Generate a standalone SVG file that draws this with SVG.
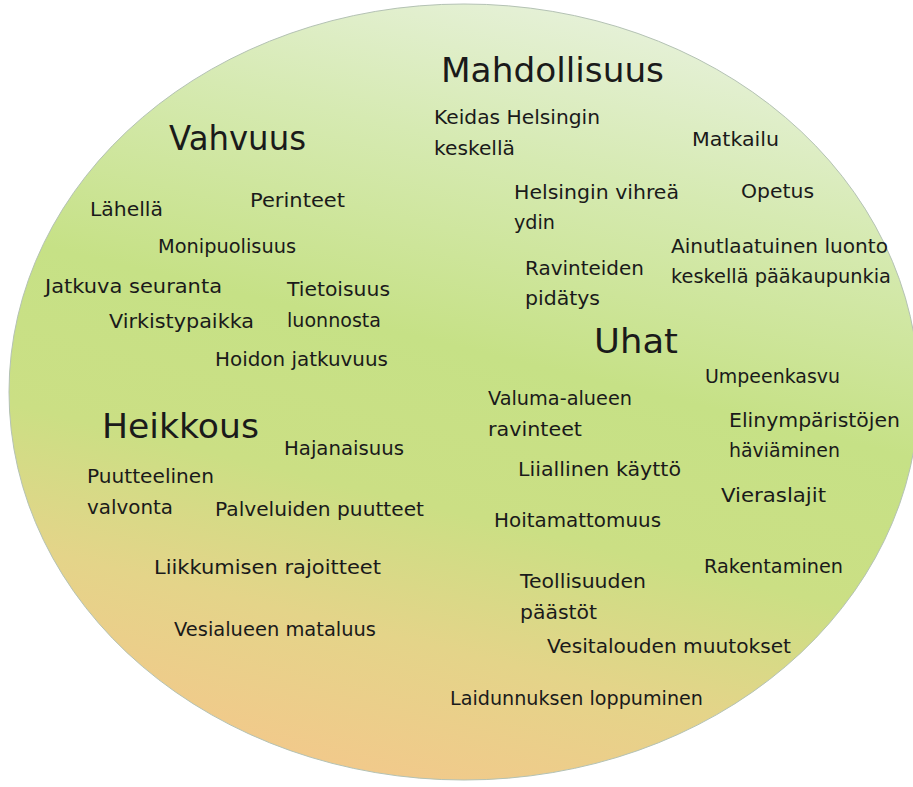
<svg xmlns="http://www.w3.org/2000/svg" width="913" height="787" viewBox="0 0 913 787">
<defs>
<linearGradient id="bg" gradientUnits="userSpaceOnUse" x1="560" y1="0" x2="370" y2="780">
<stop offset="0" stop-color="#e6f1d9"/>
<stop offset="0.2" stop-color="#d6eab2"/>
<stop offset="0.45" stop-color="#c6e186"/>
<stop offset="0.65" stop-color="#cbdf84"/>
<stop offset="0.82" stop-color="#e4d489"/>
<stop offset="1" stop-color="#f2c98b"/>
</linearGradient>
<style>
text{font-family:"DejaVu Sans","Liberation Sans",sans-serif;fill:#1a1a1a;}
.s{font-size:19px;}
.h{font-size:33px;}
</style>
</defs>
<rect width="913" height="787" fill="#ffffff"/>
<ellipse cx="464" cy="392" rx="455" ry="388" fill="url(#bg)" stroke="#b4c2b4" stroke-width="1"/>
<g id="labels">
<text class="h" x="441" y="82" textLength="223" lengthAdjust="spacingAndGlyphs">Mahdollisuus</text>
<text class="s" x="434" y="124" textLength="166" lengthAdjust="spacingAndGlyphs">Keidas Helsingin</text>
<text class="s" x="434" y="155" textLength="81" lengthAdjust="spacingAndGlyphs">keskellä</text>
<text class="h" x="169" y="150" textLength="137" lengthAdjust="spacingAndGlyphs">Vahvuus</text>
<text class="s" x="692" y="146" textLength="87" lengthAdjust="spacingAndGlyphs">Matkailu</text>
<text class="s" x="514" y="199" textLength="165" lengthAdjust="spacingAndGlyphs">Helsingin vihreä</text>
<text class="s" x="741" y="198" textLength="73" lengthAdjust="spacingAndGlyphs">Opetus</text>
<text class="s" x="514" y="229" textLength="41" lengthAdjust="spacingAndGlyphs">ydin</text>
<text class="s" x="90" y="216" textLength="73" lengthAdjust="spacingAndGlyphs">Lähellä</text>
<text class="s" x="250" y="207" textLength="95" lengthAdjust="spacingAndGlyphs">Perinteet</text>
<text class="s" x="158" y="253" textLength="138" lengthAdjust="spacingAndGlyphs">Monipuolisuus</text>
<text class="s" x="671" y="253" textLength="217" lengthAdjust="spacingAndGlyphs">Ainutlaatuinen luonto</text>
<text class="s" x="525" y="275" textLength="119" lengthAdjust="spacingAndGlyphs">Ravinteiden</text>
<text class="s" x="671" y="283" textLength="220" lengthAdjust="spacingAndGlyphs">keskellä pääkaupunkia</text>
<text class="s" x="45" y="293" textLength="177" lengthAdjust="spacingAndGlyphs">Jatkuva seuranta</text>
<text class="s" x="287" y="296" textLength="103" lengthAdjust="spacingAndGlyphs">Tietoisuus</text>
<text class="s" x="525" y="305" textLength="75" lengthAdjust="spacingAndGlyphs">pidätys</text>
<text class="s" x="109" y="328" textLength="145" lengthAdjust="spacingAndGlyphs">Virkistypaikka</text>
<text class="s" x="287" y="327" textLength="94" lengthAdjust="spacingAndGlyphs">luonnosta</text>
<text class="h" x="594" y="353" textLength="84" lengthAdjust="spacingAndGlyphs">Uhat</text>
<text class="s" x="215" y="366" textLength="173" lengthAdjust="spacingAndGlyphs">Hoidon jatkuvuus</text>
<text class="s" x="705" y="383" textLength="135" lengthAdjust="spacingAndGlyphs">Umpeenkasvu</text>
<text class="s" x="488" y="405" textLength="144" lengthAdjust="spacingAndGlyphs">Valuma-alueen</text>
<text class="h" x="102" y="438" textLength="157" lengthAdjust="spacingAndGlyphs">Heikkous</text>
<text class="s" x="729" y="427" textLength="171" lengthAdjust="spacingAndGlyphs">Elinympäristöjen</text>
<text class="s" x="488" y="436" textLength="94" lengthAdjust="spacingAndGlyphs">ravinteet</text>
<text class="s" x="284" y="455" textLength="120" lengthAdjust="spacingAndGlyphs">Hajanaisuus</text>
<text class="s" x="729" y="457" textLength="111" lengthAdjust="spacingAndGlyphs">häviäminen</text>
<text class="s" x="87" y="483" textLength="127" lengthAdjust="spacingAndGlyphs">Puutteelinen</text>
<text class="s" x="518" y="476" textLength="163" lengthAdjust="spacingAndGlyphs">Liiallinen käyttö</text>
<text class="s" x="721" y="502" textLength="105" lengthAdjust="spacingAndGlyphs">Vieraslajit</text>
<text class="s" x="87" y="514" textLength="86" lengthAdjust="spacingAndGlyphs">valvonta</text>
<text class="s" x="215" y="516" textLength="209" lengthAdjust="spacingAndGlyphs">Palveluiden puutteet</text>
<text class="s" x="494" y="527" textLength="167" lengthAdjust="spacingAndGlyphs">Hoitamattomuus</text>
<text class="s" x="154" y="574" textLength="227" lengthAdjust="spacingAndGlyphs">Liikkumisen rajoitteet</text>
<text class="s" x="704" y="573" textLength="139" lengthAdjust="spacingAndGlyphs">Rakentaminen</text>
<text class="s" x="520" y="588" textLength="126" lengthAdjust="spacingAndGlyphs">Teollisuuden</text>
<text class="s" x="520" y="619" textLength="77" lengthAdjust="spacingAndGlyphs">päästöt</text>
<text class="s" x="174" y="636" textLength="202" lengthAdjust="spacingAndGlyphs">Vesialueen mataluus</text>
<text class="s" x="547" y="653" textLength="244" lengthAdjust="spacingAndGlyphs">Vesitalouden muutokset</text>
<text class="s" x="450" y="705" textLength="253" lengthAdjust="spacingAndGlyphs">Laidunnuksen loppuminen</text>
</g>
</svg>
